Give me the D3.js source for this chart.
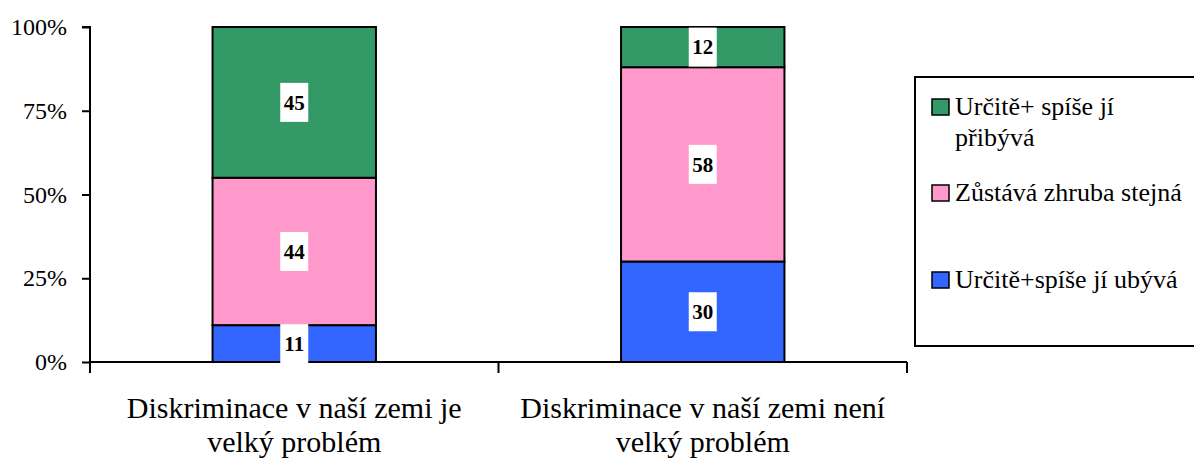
<!DOCTYPE html>
<html>
<head>
<meta charset="utf-8">
<script src="https://cdn.jsdelivr.net/npm/d3@7.9.0/dist/d3.min.js"></script>
<style>
  body { margin: 0; background: #fff; }
  svg text { font-family: "Liberation Serif", "Times New Roman", Times, serif !important; }
</style>
</head>
<body>
<svg id="chart" width="1194" height="459"></svg>
<script>
const categories = [
  ['Diskriminace v naší zemi je', 'velký problém'],
  ['Diskriminace v naší zemi není', 'velký problém'],
];
const seriesNames = ['Určitě+spíše jí ubývá', 'Zůstává zhruba stejná', 'Určitě+ spíše jí přibývá'];
const seriesColors = ['#3366FF', '#FF99CC', '#339966'];
const ubyva = [11, 30];
const stejna = [44, 58];
const pribyva = [45, 12];
const yTicks = [0, 0.25, 0.5, 0.75, 1];
const legendLines = [
  ['Určitě+ spíše jí', 'přibývá'],
  ['Zůstává zhruba stejná'],
  ['Určitě+spíše jí ubývá'],
];

const svg = d3.select('#chart');
const plot = { left: 90, right: 907, top: 27, bottom: 362 };

const rows = categories.map((c, i) => ({
  key: i,
  values: [ubyva[i], stejna[i], pribyva[i]],
}));

const xScale = d3.scaleBand()
  .domain(rows.map((d) => d.key))
  .range([plot.left, plot.right])
  .padding(0);

const yScale = d3.scaleLinear()
  .domain([0, 1])
  .range([plot.bottom, plot.top]);

// stacked segments as shares of row total
const segments = rows.flatMap((r) => {
  const total = d3.sum(r.values);
  let acc = 0;
  return r.values.map((v, s) => {
    const seg = { key: r.key, s, value: v, y0: acc / total, y1: (acc + v) / total };
    acc += v;
    return seg;
  });
});

const barW = xScale.bandwidth() * 0.4;
const barX = (k) => xScale(k) + (xScale.bandwidth() - barW) / 2;

svg.append('g')
  .selectAll('rect')
  .data(segments)
  .join('rect')
  .attr('x', (d) => barX(d.key))
  .attr('y', (d) => yScale(d.y1))
  .attr('width', barW)
  .attr('height', (d) => yScale(d.y0) - yScale(d.y1))
  .attr('fill', (d) => seriesColors[d.s])
  .attr('stroke', '#000')
  .attr('stroke-width', 2);

// axes
const yAxis = svg.append('g')
  .attr('transform', `translate(${plot.left},0)`)
  .call(d3.axisLeft(yScale).tickValues(yTicks).tickSize(8).tickPadding(15)
    .tickFormat((d) => `${Math.round(d * 100)}%`));
yAxis.select('.domain').attr('stroke', '#000').attr('stroke-width', 2).attr('d', `M-8,${plot.top}H0V${plot.bottom}`);
yAxis.selectAll('.tick line').attr('stroke', '#000').attr('stroke-width', 2);
yAxis.selectAll('.tick text')
  .attr('font-size', 24)
  .attr('fill', '#000');

const xAxis = svg.append('g')
  .attr('transform', `translate(0,${plot.bottom})`)
  .call(d3.axisBottom(xScale).tickSize(0).tickFormat(''));
xAxis.select('.domain').attr('stroke', '#000').attr('stroke-width', 2).attr('d', `M${plot.left},0H${plot.right}`);

const boundaries = rows.map((d) => xScale(d.key)).concat([xScale(rows[rows.length - 1].key) + xScale.bandwidth()]);
xAxis.selectAll('line.bound')
  .data(boundaries)
  .join('line')
  .attr('class', 'bound')
  .attr('x1', (d) => d).attr('x2', (d) => d)
  .attr('y1', 0).attr('y2', 11)
  .attr('stroke', '#000').attr('stroke-width', 2);

// category labels
const catLabels = svg.append('g')
  .selectAll('text')
  .data(rows)
  .join('text')
  .attr('text-anchor', 'middle')
  .attr('font-size', 30)
  .attr('fill', '#000');
catLabels.selectAll('tspan')
  .data((d) => categories[d.key].map((t) => ({ t, x: xScale(d.key) + xScale.bandwidth() / 2 })))
  .join('tspan')
  .attr('x', (d) => d.x)
  .attr('y', (d, i) => 418 + i * 34)
  .text((d) => d.t);

// value labels
const labels = svg.append('g')
  .selectAll('g')
  .data(segments)
  .join('g')
  .attr('transform', (d) => `translate(${barX(d.key) + barW / 2},${(yScale(d.y0) + yScale(d.y1)) / 2})`);
labels.append('rect')
  .attr('x', -14).attr('y', -19.5)
  .attr('width', 28).attr('height', 39)
  .attr('fill', '#fff');
labels.append('text')
  .attr('text-anchor', 'middle')
  .attr('dy', '0.35em')
  .attr('font-size', 21)
  .attr('font-weight', 'bold')
  .attr('fill', '#000')
  .text((d) => d.value);

// legend
const legend = svg.append('g');
legend.append('rect')
  .attr('x', 915).attr('y', 77)
  .attr('width', 300).attr('height', 269)
  .attr('fill', '#fff')
  .attr('stroke', '#000').attr('stroke-width', 2);

const legendOrder = [2, 1, 0];
const legendBase = [115, 201, 288];
const items = legend.selectAll('g.item')
  .data(legendOrder)
  .join('g')
  .attr('class', 'item')
  .attr('transform', (d, i) => `translate(932,${legendBase[i]})`);
items.append('rect')
  .attr('x', 0).attr('y', -16)
  .attr('width', 17).attr('height', 16)
  .attr('fill', (d) => seriesColors[d])
  .attr('stroke', '#000').attr('stroke-width', 1.5);
items.append('text')
  .attr('font-size', 26)
  .attr('fill', '#000')
  .selectAll('tspan')
  .data((d, i) => legendLines[i])
  .join('tspan')
  .attr('x', 23)
  .attr('y', (d, i) => i * 31)
  .text((d) => d);
</script>
</body>
</html>
